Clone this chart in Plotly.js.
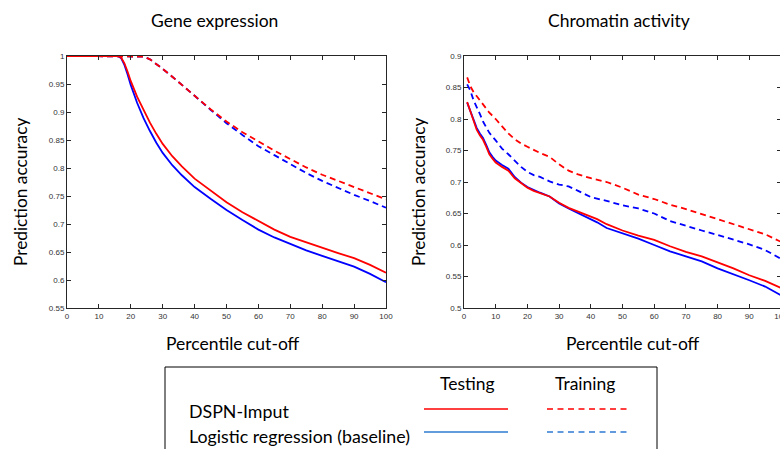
<!DOCTYPE html>
<html>
<head>
<meta charset="utf-8">
<script src="https://cdn.plot.ly/plotly-3.0.1.min.js"></script>
<style>
  html, body { margin: 0; padding: 0; overflow: hidden; background: #fff; }
  #chart { width: 790px; height: 449px; }
</style>
</head>
<body>
<div id="chart"></div>
<script>
// ---- Data: Gene expression ----
const geneX = [0, 5, 10, 15, 16, 17, 18, 19, 20, 22, 24, 26, 28, 30, 33, 36, 40, 45, 50, 55, 60, 65, 70, 75, 80, 85, 90, 95, 100];
const geneDspnTest = [1, 1, 1, 1, 1, 0.997, 0.987, 0.972, 0.955, 0.927, 0.903, 0.881, 0.861, 0.843, 0.821, 0.803, 0.781, 0.760, 0.739, 0.721, 0.705, 0.690, 0.677, 0.667, 0.657, 0.648, 0.639, 0.627, 0.613];
const geneLogTest = [1, 1, 1, 1, 1, 0.996, 0.984, 0.967, 0.948, 0.916, 0.889, 0.866, 0.845, 0.827, 0.805, 0.787, 0.766, 0.745, 0.725, 0.707, 0.690, 0.676, 0.664, 0.653, 0.643, 0.634, 0.624, 0.611, 0.596];
const geneTrainX = [0, 5, 10, 15, 20, 22, 24, 26, 28, 30, 33, 36, 40, 45, 50, 55, 60, 65, 70, 75, 80, 85, 90, 95, 100];
const geneDspnTrain = [1, 1, 1, 1, 1, 1, 0.999, 0.994, 0.986, 0.977, 0.963, 0.949, 0.929, 0.905, 0.883, 0.864, 0.847, 0.831, 0.816, 0.801, 0.788, 0.777, 0.767, 0.756, 0.744];
const geneLogTrain = [1, 1, 1, 1, 1, 1, 0.999, 0.994, 0.986, 0.977, 0.963, 0.949, 0.929, 0.904, 0.880, 0.859, 0.839, 0.823, 0.807, 0.791, 0.777, 0.764, 0.752, 0.741, 0.729];

// ---- Data: Chromatin activity ----
const chromX = [1, 2, 3, 4, 5, 6, 7, 8, 9, 10, 12, 14, 16, 18, 20, 22, 24, 27, 30, 33, 36, 40, 42, 45, 50, 55, 60, 65, 70, 75, 80, 85, 90, 95, 100];
const chromDspnTest = [0.827, 0.812, 0.797, 0.783, 0.774, 0.767, 0.756, 0.744, 0.737, 0.731, 0.724, 0.718, 0.706, 0.698, 0.691, 0.686, 0.682, 0.677, 0.667, 0.659, 0.653, 0.645, 0.641, 0.633, 0.623, 0.615, 0.608, 0.598, 0.589, 0.582, 0.573, 0.563, 0.552, 0.543, 0.532];
const chromLogTest = [0.826, 0.813, 0.799, 0.786, 0.777, 0.770, 0.759, 0.747, 0.740, 0.734, 0.727, 0.721, 0.708, 0.699, 0.692, 0.687, 0.683, 0.677, 0.666, 0.658, 0.651, 0.641, 0.636, 0.627, 0.619, 0.610, 0.600, 0.590, 0.582, 0.574, 0.563, 0.554, 0.544, 0.534, 0.520];
const chromTrainX = [1, 2, 3, 4, 5, 6, 7, 8, 10, 12, 14, 16, 18, 20, 22, 24, 27, 30, 33, 36, 40, 45, 50, 55, 60, 65, 70, 75, 80, 85, 90, 95, 100];
const chromDspnTrain = [0.866, 0.852, 0.843, 0.836, 0.830, 0.823, 0.816, 0.810, 0.800, 0.789, 0.777, 0.768, 0.761, 0.756, 0.751, 0.746, 0.740, 0.728, 0.718, 0.712, 0.706, 0.700, 0.691, 0.680, 0.673, 0.664, 0.657, 0.649, 0.641, 0.633, 0.625, 0.617, 0.605];
const chromLogTrain = [0.855, 0.845, 0.830, 0.820, 0.808, 0.796, 0.786, 0.778, 0.766, 0.753, 0.744, 0.734, 0.724, 0.716, 0.711, 0.708, 0.701, 0.696, 0.693, 0.686, 0.676, 0.670, 0.663, 0.658, 0.650, 0.638, 0.630, 0.623, 0.616, 0.609, 0.601, 0.592, 0.578];

const panelTitles = ["Gene expression", "Chromatin activity"];
const xTitle = "Percentile cut-off";
const yTitle = "Prediction accuracy";
const seriesNames = ["DSPN-Imput", "Logistic regression (baseline)"];
const columnNames = ["Testing", "Training"];

// ---- Layout geometry (pixels) ----
const W = 790, H = 449;
const ML = 0, MR = 0, MT = 56, MB = 141;
const PH = H - MT - MB;
const px = v => (v - ML) / (W - ML - MR);
const py = v => (H - MB - v) / PH;

const RED = "#ff0000", BLUE = "#0000ff", LEGBLUE = "#2e7bd2";
const DASH = "6px,4px";
const LW = 1.8;

function line(x, y, color, dash, xa, ya) {
  return { x: x, y: y, xaxis: xa, yaxis: ya, type: "scatter", mode: "lines",
           line: { color: color, width: LW, dash: dash }, hoverinfo: "skip", showlegend: false };
}

const traces = [
  line(geneTrainX, geneLogTrain, BLUE, DASH, "x", "y"),
  line(geneTrainX, geneDspnTrain, RED, DASH, "x", "y"),
  line(geneX, geneLogTest, BLUE, "solid", "x", "y"),
  line(geneX, geneDspnTest, RED, "solid", "x", "y"),
  line(chromTrainX, chromLogTrain, BLUE, DASH, "x2", "y2"),
  line(chromTrainX, chromDspnTrain, RED, DASH, "x2", "y2"),
  line(chromX, chromLogTest, BLUE, "solid", "x2", "y2"),
  line(chromX, chromDspnTest, RED, "solid", "x2", "y2")
];

const AX = "#262626";
const tickFont = { family: "Liberation Sans, Arial, sans-serif", size: 8, color: "#333333" };
function xaxis(domain, anchor) {
  return { domain: domain, anchor: anchor, range: [0, 100], dtick: 10, tick0: 0,
           showline: true, linecolor: AX, linewidth: 1, mirror: "ticks",
           ticks: "inside", ticklen: 4, tickcolor: AX, tickwidth: 1,
           showgrid: false, zeroline: false, tickfont: tickFont, automargin: false, fixedrange: true };
}
function yaxis(range, anchor) {
  return { domain: [0, 1], anchor: anchor, range: range, dtick: 0.05, tick0: 0,
           showline: true, linecolor: AX, linewidth: 1, mirror: "ticks",
           ticks: "inside", ticklen: 4, tickcolor: AX, tickwidth: 1,
           showgrid: false, zeroline: false, tickfont: tickFont, automargin: false, fixedrange: true };
}

const FONT = "Lato, 'Open Sans', sans-serif";
const ann = [];
function text(t, x, y, size, opts) {
  ann.push(Object.assign({ text: t, x: x, y: y, xref: "paper", yref: "paper", showarrow: false,
           xanchor: "center", yanchor: "middle", font: { family: FONT, size: size, color: "#000" } }, opts || {}));
}
text(panelTitles[0], px(214), py(20), 17.5);
text(panelTitles[1], px(619), py(20), 17.5);
text(xTitle, px(233), py(343), 17.5);
text(xTitle, px(633), py(343), 17.5);
text(yTitle, px(20), py(192), 17.3, { textangle: -90 });
text(yTitle, px(418), py(192), 17.3, { textangle: -90 });
text(columnNames[0], px(467), py(383), 17.5);
text(columnNames[1], px(585), py(383), 17.5);
text(seriesNames[0], px(187), py(411), 17.8, { xanchor: "left" });
text(seriesNames[1], px(187), py(436), 17.8, { xanchor: "left" });

const shapes = [
  { type: "rect", xref: "paper", yref: "paper", x0: px(165), x1: px(657), y0: py(367), y1: py(470),
    line: { color: "#000", width: 1 }, fillcolor: "rgba(0,0,0,0)" },
  { type: "line", xref: "paper", yref: "paper", x0: px(424), x1: px(508), y0: py(409), y1: py(409),
    line: { color: RED, width: 1.5 } },
  { type: "line", xref: "paper", yref: "paper", x0: px(547), x1: px(631), y0: py(409), y1: py(409),
    line: { color: RED, width: 1.5, dash: "6px,4.5px" } },
  { type: "line", xref: "paper", yref: "paper", x0: px(424), x1: px(508), y0: py(432), y1: py(432),
    line: { color: LEGBLUE, width: 1.5 } },
  { type: "line", xref: "paper", yref: "paper", x0: px(547), x1: px(631), y0: py(432), y1: py(432),
    line: { color: LEGBLUE, width: 1.5, dash: "6px,4.5px" } }
];

const layout = {
  width: W, height: H,
  margin: { l: ML, r: MR, t: MT, b: MB, pad: 0 },
  paper_bgcolor: "#fff", plot_bgcolor: "#fff",
  showlegend: false,
  xaxis: xaxis([px(67), px(386)], "y"),
  yaxis: yaxis([0.55, 1], "x"),
  xaxis2: xaxis([px(464), px(781)], "y2"),
  yaxis2: yaxis([0.5, 0.9], "x2"),
  annotations: ann,
  shapes: shapes
};

Plotly.newPlot("chart", traces, layout, { displayModeBar: false, staticPlot: true });
</script>
</body>
</html>
